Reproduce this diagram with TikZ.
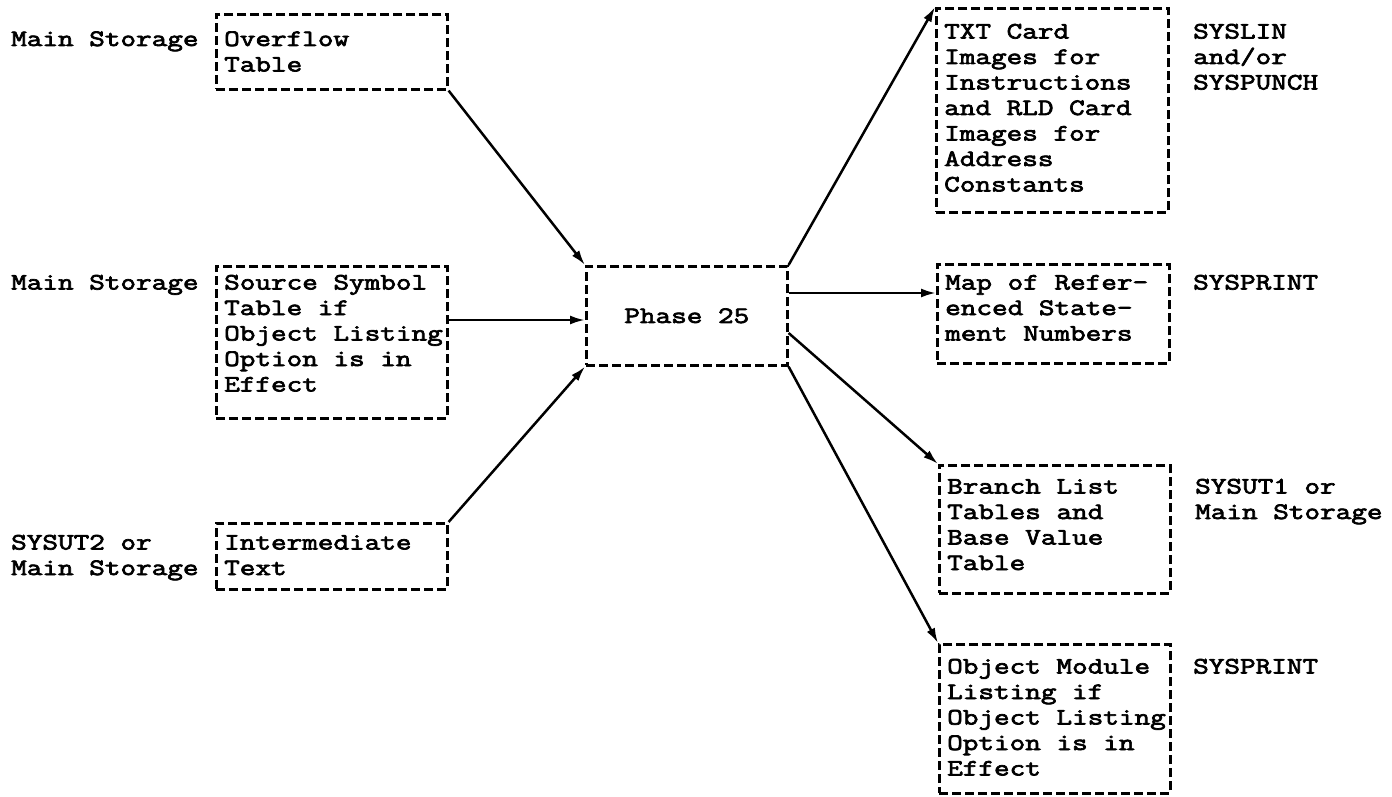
\documentclass[tikz,border=0pt]{standalone}
\usepackage{fontspec}
\setmonofont{Latin Modern Mono}[FakeStretch=1.29, FakeBold=3]
\usetikzlibrary{arrows.meta}
% multi-line text whose baseline is that of its first line
\newcommand{\tlines}[1]{\begin{tabular}[t]{@{}l@{}}#1\end{tabular}}
\begin{document}
\begin{tikzpicture}[x=1pt, y=-1pt,
  every node/.style={font=\ttfamily\fontsize{23.5}{25.5}\selectfont, inner sep=0pt},
  box/.style n args={2}{draw, line width=2.6pt, dash pattern=on 9pt off 4pt,
    anchor=north west, minimum width=#1, minimum height=#2},
  txt/.style={anchor=base west},
  arr/.style={line width=2.5pt, -{Latex[length=15pt, width=9pt]}}]
\useasboundingbox (0,0) rectangle (1392,797);

% input data sets
\node[box={231}{75}]  (ovf) at (215,13)  {};
\node[box={231}{152}] (src) at (215,265) {};
\node[box={231}{66}]  (itx) at (215,522) {};
\node[txt] (ovft) at (224,46)    {\tlines{Overflow\\Table}};
\node[txt] (srct) at (224,289.5) {\tlines{Source Symbol\\Table if\\Object Listing\\Option is in\\Effect}};
\node[txt] (itxt) at (224,549.5) {\tlines{Intermediate\\Text}};
\node[txt] (l1) at (11,46)    {Main Storage};
\node[txt] (l2) at (11,289.5) {Main Storage};
\node[txt] (l3) at (11,549.5) {\tlines{SYSUT2 or\\Main Storage}};

% the phase
\node[box={201}{99}] (ph) at (585,265) {};
\node (pht) at (ph.center) {Phase 25};

% output data sets
\node[box={232}{204}] (txc) at (935,7)   {};
\node[box={232}{99}]  (map) at (936,263) {};
\node[box={231}{128}] (br)  at (938,464) {};
\node[box={231}{149}] (obj) at (938,643) {};
\node[txt] (txct) at (944,38.5)  {\tlines{TXT Card\\Images for\\Instructions\\and RLD Card\\Images for\\Address\\Constants}};
\node[txt] (mapt) at (945,289.5) {\tlines{Map of Refer-\\enced State-\\ment Numbers}};
\node[txt] (brt)  at (947,493.5) {\tlines{Branch List\\Tables and\\Base Value\\Table}};
\node[txt] (objt) at (947,673.5) {\tlines{Object Module\\Listing if\\Object Listing\\Option is in\\Effect}};
\node[txt] (r1) at (1193,38.5)  {\tlines{SYSLIN\\and/or\\SYSPUNCH}};
\node[txt] (r2) at (1193,289.5) {SYSPRINT};
\node[txt] (r3) at (1195,493.5) {\tlines{SYSUT1 or\\Main Storage}};
\node[txt] (r4) at (1193,673.5) {SYSPRINT};

% connector heights
\coordinate (ysrc) at (0,320);
\coordinate (ymap) at (0,293);
\coordinate (ybr)  at (0,333);

% data flow
\draw[arr] (ovf.south east) -- (ph.north west);
\draw[arr] (src.east |- ysrc) -- (ph.west |- ysrc);
\draw[arr] (itx.north east) -- (ph.south west);
\draw[arr] (ph.north east) -- (txc.north west);
\draw[arr] (ph.east |- ymap) -- (map.west |- ymap);
\draw[arr] (ph.east |- ybr) -- (br.north west);
\draw[arr] (ph.south east) -- (obj.north west);
\end{tikzpicture}
\end{document}
